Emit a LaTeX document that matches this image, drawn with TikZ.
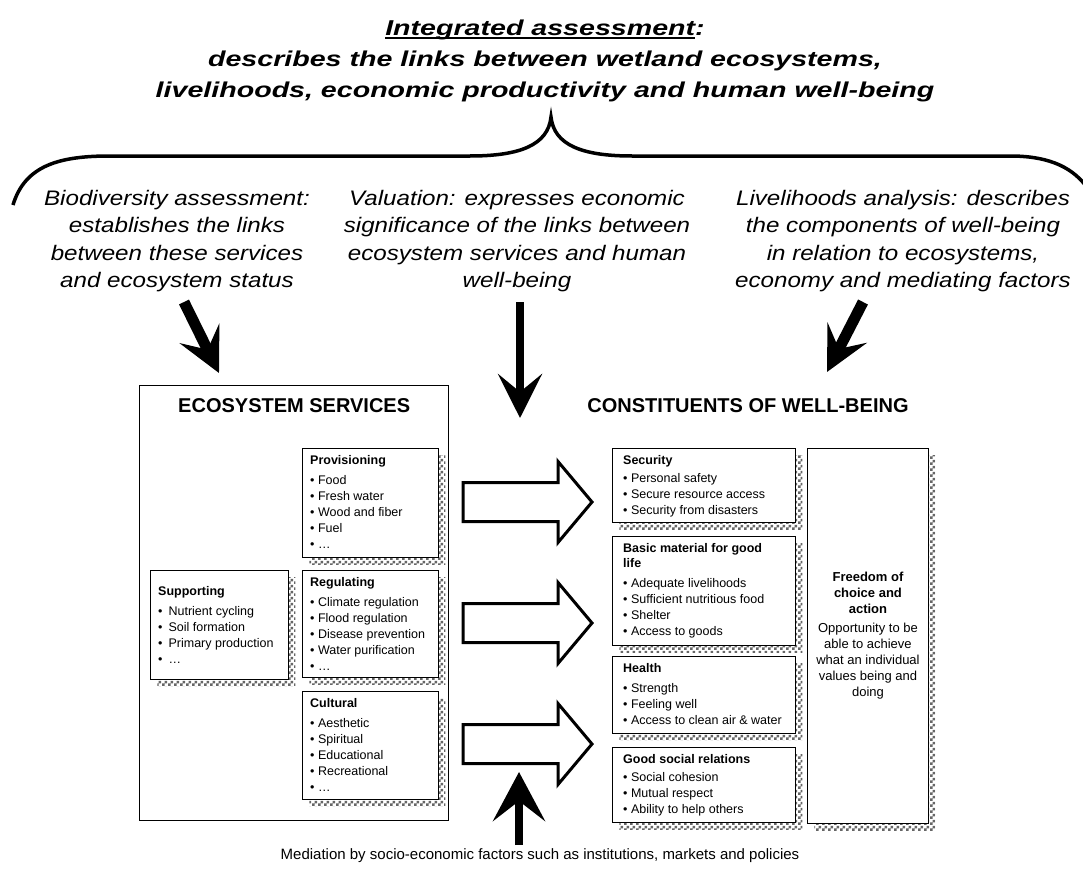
\documentclass[tikz,border=0pt]{standalone}
\usepackage{fontspec}
\setmainfont{Liberation Sans}
\newfontfamily\titlefont[FakeStretch=1.33]{Liberation Sans}
\newfontfamily\notefont[FakeStretch=1.15]{Liberation Sans}
\usetikzlibrary{arrows.meta,positioning,patterns}
\pgfdeclarepatternformonly{shadechk}{\pgfpointorigin}{\pgfpoint{6pt}{6pt}}{\pgfpoint{6pt}{6pt}}{%
  \pgfpathrectangle{\pgfpointorigin}{\pgfpoint{3pt}{3pt}}%
  \pgfpathrectangle{\pgfpoint{3pt}{3pt}}{\pgfpoint{3pt}{3pt}}%
  \pgfusepath{fill}}
\newlength{\ulwd}
\newcommand{\thickul}[1]{\settowidth{\ulwd}{#1}\rlap{\rule[-3.5pt]{\ulwd}{1.9pt}}#1}
\newcommand{\itm}{\textbullet\ }
\newcommand{\itmw}{\textbullet\hspace{6pt}}
\tikzset{%
    panel/.style={draw, line width=0.9pt, fill=white, inner sep=0pt, anchor=north west},
    shadepanel/.style={panel, preaction={pattern=shadechk, pattern color=black!60,
        transform canvas={xshift=7pt, yshift=-7pt}}},
    paneltext/.style={inner sep=0pt, align=left, font=\fontsize{12.5}{16}\selectfont},
    notetext/.style={inner sep=0pt, align=center, anchor=north,
        font=\notefont\itshape\fontsize{21}{27.3}\selectfont},
    bigarrow/.style={line width=#1, -{Stealth[length=44pt, width=44pt, inset=18pt]}},
    bigarrow/.default=8.5pt,
    blockarrow/.style={draw, line width=3pt, fill=white, line join=miter}
}
\begin{document}
\begin{tikzpicture}[x=1pt,y=-1pt]
\useasboundingbox (0,0) rectangle (1083,872);

\node[inner sep=0pt, align=center, anchor=north,
    font=\titlefont\bfseries\itshape\fontsize{21.5}{31}\selectfont] (title) at (545,19.3)
    {\thickul{Integrated assessment}:\\ describes the links between wetland ecosystems,\\ livelihoods, economic productivity and human well-being};

\draw[line width=3.5pt] (13,205) .. controls (25,165) and (60,156) .. (110,156) -- (470,156)
    .. controls (520,156) and (548,145) .. (551,117)
    .. controls (554,145) and (582,156) .. (632,156) -- (1010,156)
    .. controls (1045,156) and (1070,165) .. (1086,186);

\node[notetext] (bio) at (177,190) {Biodiversity assessment:\\ establishes the links\\ between these services\\ and ecosystem status};
\node[notetext] (val) at (517,190) {Valuation: expresses economic\\ significance of the links between\\ ecosystem services and human\\ well-being};
\node[notetext] (live) at (903,190) {Livelihoods analysis: describes\\ the components of well-being\\ in relation to ecosystems,\\ economy and mediating factors};

\coordinate (bioS) at (184,302);
\coordinate (bioE) at (219,373);
\coordinate (valS) at (520,302);
\coordinate (valE) at (520,418);
\coordinate (liveS) at (863,302);
\coordinate (liveE) at (827,372);
\coordinate (medS) at (519,845);
\coordinate (medE) at (519,772);

\draw[bigarrow=11pt] (bioS) -- (bioE);
\draw[bigarrow] (valS) -- (valE);
\draw[bigarrow=11pt] (liveS) -- (liveE);
\draw[line width=8.5pt, -{Stealth[length=49pt, width=52pt, inset=20pt]}] (medS) -- (medE);

\node[panel, line width=1.4pt, minimum width=309pt, minimum height=435pt] (eco) at (139,385) {};
\node[inner sep=0pt, anchor=north, font=\bfseries\fontsize{20}{24}\selectfont, below=13pt of eco.north] (ecotitle) {ECOSYSTEM SERVICES};
\node[inner sep=0pt, anchor=north, font=\bfseries\fontsize{20}{24}\selectfont] (wbtitle) at (748,398) {CONSTITUENTS OF WELL-BEING};

\node[shadepanel, minimum width=136pt, minimum height=109pt] (prov) at (302,448) {};
\node[shadepanel, minimum width=136pt, minimum height=107pt] (regu) at (302,570) {};
\node[shadepanel, minimum width=136pt, minimum height=108pt] (cult) at (302,691) {};
\node[shadepanel, minimum width=138pt, minimum height=109pt] (supp) at (150,570) {};

\node[paneltext, below right=7pt and 8pt of prov.north west] (provtxt) {\textbf{Provisioning}\\[4.3pt]\itm Food\\ \itm Fresh water\\ \itm Wood and fiber\\ \itm Fuel\\ \itm \dots};
\node[paneltext, below right=7pt and 8pt of regu.north west] (regutxt) {\textbf{Regulating}\\[4.3pt]\itm Climate regulation\\ \itm Flood regulation\\ \itm Disease prevention\\ \itm Water purification\\ \itm \dots};
\node[paneltext, below right=7pt and 8pt of cult.north west] (culttxt) {\textbf{Cultural}\\[4.3pt]\itm Aesthetic\\ \itm Spiritual\\ \itm Educational\\ \itm Recreational\\ \itm \dots};
\node[paneltext, anchor=west, right=8pt of supp.west] (supptxt) {\textbf{Supporting}\\[4.3pt]\itmw Nutrient cycling\\ \itmw Soil formation\\ \itmw Primary production\\ \itmw \dots};

\node[shadepanel, minimum width=183pt, minimum height=74pt] (secu) at (612,448) {};
\node[shadepanel, minimum width=183pt, minimum height=109pt] (basic) at (612,536) {};
\node[shadepanel, minimum width=183pt, minimum height=77pt] (health) at (612,656) {};
\node[shadepanel, minimum width=183pt, minimum height=75pt] (social) at (612,747) {};
\node[shadepanel, minimum width=121pt, minimum height=375pt] (free) at (807,448) {};

\node[paneltext, below right=7pt and 11pt of secu.north west] (secutxt) {\textbf{Security}\\[2.3pt]\itm Personal safety\\ \itm Secure resource access\\ \itm Security from disasters};
\node[paneltext, below right=7pt and 11pt of basic.north west] (basictxt) {\textbf{Basic material for good}\\[-1pt]\textbf{life}\\[4.3pt]\itm Adequate livelihoods\\ \itm Sufficient nutritious food\\ \itm Shelter\\ \itm Access to goods};
\node[paneltext, below right=7pt and 11pt of health.north west] (healthtxt) {\textbf{Health}\\[4.3pt]\itm Strength\\ \itm Feeling well\\ \itm Access to clean air \& water};
\node[paneltext, below right=7pt and 11pt of social.north west] (socialtxt) {\textbf{Good social relations}\\[2.3pt]\itm Social cohesion\\ \itm Mutual respect\\ \itm Ability to help others};
\node[inner sep=0pt, align=center, font=\fontsize{13}{16}\selectfont] (freetxt) at (free.center) {\textbf{Freedom of}\\ \textbf{choice and}\\ \textbf{action}\\[3pt] Opportunity to be\\ able to achieve\\ what an individual\\ values being and\\ doing};

\coordinate (flow1) at (463,502);
\coordinate (flow2) at (463,623);
\coordinate (flow3) at (463,744);
\draw[blockarrow] (flow1) ++(0,-19.5) -- ++(95,0) -- ++(0,-21) -- ++(34,40.5) -- ++(-34,40.5) -- ++(0,-21) -- ++(-95,0) -- cycle;
\draw[blockarrow] (flow2) ++(0,-19.5) -- ++(95,0) -- ++(0,-21) -- ++(34,40.5) -- ++(-34,40.5) -- ++(0,-21) -- ++(-95,0) -- cycle;
\draw[blockarrow] (flow3) ++(0,-19.5) -- ++(95,0) -- ++(0,-21) -- ++(34,40.5) -- ++(-34,40.5) -- ++(0,-21) -- ++(-95,0) -- cycle;

\node[inner sep=0pt, font=\fontsize{15}{18}\selectfont] (med) at (540,856) {Mediation by socio-economic factors such as institutions, markets and policies};
\end{tikzpicture}
\end{document}
